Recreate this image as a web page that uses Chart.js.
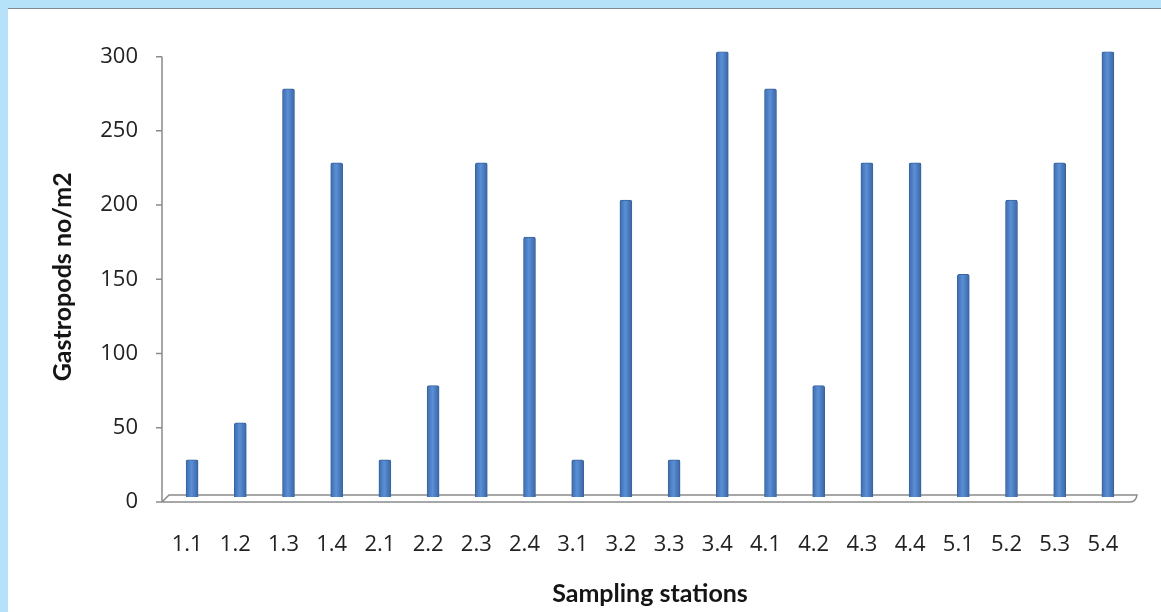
<!DOCTYPE html>
<html>
<head>
<meta charset="utf-8">
<title>Gastropods by sampling station</title>
<script src="https://cdn.jsdelivr.net/npm/chart.js@4.4.0/dist/chart.umd.min.js"></script>
<style>
  html, body { margin: 0; padding: 0; background: #b5e2f8; overflow: hidden; }
  #panel { position: absolute; left: 8px; top: 8px; width: 1153px; height: 604px; background: #fff; border-top: 1px solid #7f8b93; box-sizing: border-box; }
  #wrap { position: absolute; left: 0; top: 0; }
</style>
</head>
<body>
<div id="panel"></div>
<div id="wrap"><canvas id="myChart" width="1161" height="612"></canvas></div>
<script>
// stations along the x axis
const stations = ['1.1', '1.2', '1.3', '1.4', '2.1', '2.2', '2.3', '2.4', '3.1', '3.2',
                  '3.3', '3.4', '4.1', '4.2', '4.3', '4.4', '5.1', '5.2', '5.3', '5.4'];
// gastropods per square metre
const gastropods = [25, 50, 275, 225, 25, 75, 225, 175, 25, 200,
                    25, 300, 275, 75, 225, 225, 150, 200, 225, 300];
const yTicks = [0, 50, 100, 150, 200, 250, 300];

const TICK_FONT = '"Open Sans", Lato, sans-serif';
const TITLE_FONT = 'Lato, "Open Sans", sans-serif';
const DEPTH = 3.4; // the columns sit a little behind the front plane

// grey axis line, tick marks and the flat 3d floor
const floorPlugin = {
    id: 'floor',
    beforeDatasetsDraw(chart) {
        const ctx = chart.ctx;
        const y = chart.scales.y, yb = chart.scales.yb;
        const area = chart.chartArea;
        const front = y.getPixelForValue(0);
        const back = yb.getPixelForValue(0) - 2;
        const axisX = area.left - 6;
        ctx.save();
        ctx.strokeStyle = '#8a8a8a';
        ctx.lineWidth = 1.5;
        ctx.beginPath();
        ctx.moveTo(axisX, y.getPixelForValue(yTicks[yTicks.length - 1]));
        ctx.lineTo(axisX, front);
        yTicks.forEach(function(v) {
            const py = y.getPixelForValue(v);
            ctx.moveTo(axisX - 6, py);
            ctx.lineTo(axisX, py);
        });
        ctx.stroke();

        ctx.beginPath();
        ctx.moveTo(axisX, front);
        ctx.lineTo(axisX + 7, back);
        ctx.lineTo(area.right + 5, back);
        ctx.quadraticCurveTo(area.right + 4, front, area.right - 2, front);
        ctx.lineTo(axisX, front);
        ctx.stroke();
        ctx.restore();
    }
};

const ctx = document.getElementById('myChart');

new Chart(ctx, {
    type: 'bar',
    data: {
        labels: stations,
        datasets: [{
            label: 'Gastropods no/m2',
            data: gastropods,
            yAxisID: 'yb',
            barThickness: 12,
            borderWidth: 1,
            borderColor: '#3a649c',
            borderRadius: { topLeft: 2, topRight: 2 },
            borderSkipped: 'bottom',
            backgroundColor: function(c) {
                const xs = c.chart.scales.x;
                if (!xs || c.dataIndex === undefined) return '#4f81bd';
                const cx = xs.getPixelForValue(c.dataIndex);
                if (!isFinite(cx)) return '#4f81bd';
                const g = c.chart.ctx.createLinearGradient(cx - 6, 0, cx + 6, 0);
                g.addColorStop(0, '#3c6cad');
                g.addColorStop(0.45, '#5b8fd6');
                g.addColorStop(1, '#3a66a6');
                return g;
            }
        }]
    },
    options: {
        responsive: false,
        animation: false,
        layout: { padding: { left: 40, right: 29, top: 51.6, bottom: 0 } },
        plugins: {
            legend: { display: false },
            tooltip: { enabled: false }
        },
        scales: {
            x: {
                grid: { display: false, drawTicks: false },
                border: { display: false },
                ticks: {
                    color: '#222',
                    font: { family: TICK_FONT, size: 22 },
                    padding: 30,
                    labelOffset: -5,
                    maxRotation: 0,
                    autoSkip: false
                },
                title: {
                    display: true,
                    text: 'Sampling stations',
                    color: '#151515',
                    font: { family: TITLE_FONT, size: 25, weight: 'bold' },
                    padding: { top: 0, bottom: 3 }
                },
                afterFit: function(s) { s.height = 110; }
            },
            y: {
                position: 'left',
                min: 0,
                max: 300 + DEPTH,
                grid: { display: false, drawTicks: false },
                border: { display: false },
                afterBuildTicks: function(s) {
                    s.ticks = yTicks.map(function(v) { return { value: v }; });
                },
                ticks: {
                    color: '#222',
                    font: { family: TICK_FONT, size: 22 },
                    padding: 30
                },
                title: {
                    display: true,
                    text: 'Gastropods no/m2',
                    color: '#151515',
                    font: { family: TITLE_FONT, size: 25, weight: 'bold' },
                    padding: { top: 8, bottom: 0 }
                },
                afterFit: function(s) { s.width = 128; }
            },
            yb: {
                display: false,
                min: -DEPTH,
                max: 300
            }
        }
    },
    plugins: [floorPlugin]
});
</script>
</body>
</html>
